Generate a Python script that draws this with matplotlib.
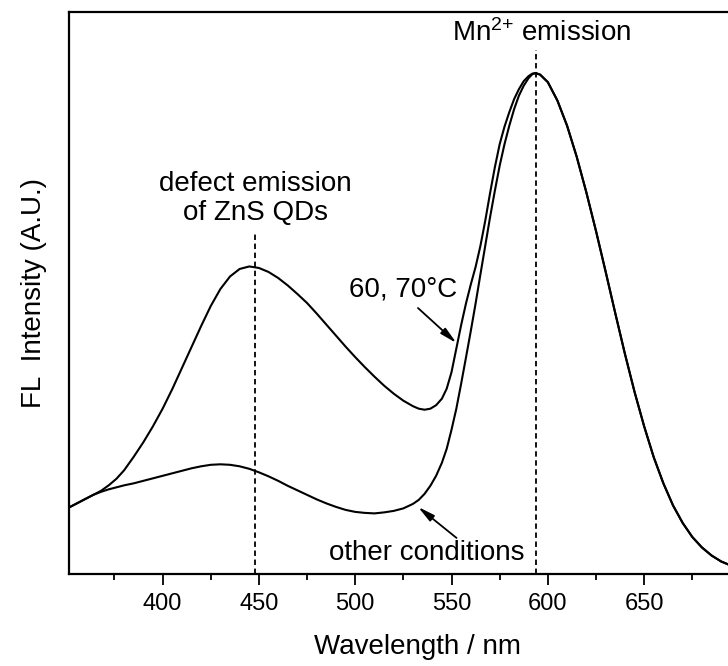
import matplotlib
matplotlib.use('Agg')
import matplotlib.pyplot as plt

plt.rcParams['font.family'] = ['Liberation Sans', 'DejaVu Sans']
plt.rcParams['mathtext.fontset'] = 'custom'
plt.rcParams['mathtext.rm'] = 'Liberation Sans'
plt.rcParams['mathtext.it'] = 'Liberation Sans:italic'
plt.rcParams['mathtext.bf'] = 'Liberation Sans:bold'
plt.rcParams['mathtext.default'] = 'regular'

# 60, 70 C curve (wavelength nm, intensity a.u.)
wl_hot = [352, 356, 360, 364, 368, 372, 376, 380, 385, 390, 395, 400, 405, 410,
          415, 420, 425, 430, 435, 440, 445, 450, 455, 460, 465, 470, 475, 480,
          485, 490, 495, 500, 505, 510, 515, 520, 525, 530, 533, 536, 539, 542,
          545, 547.5, 550, 552.5, 555, 557.5, 560, 562.5, 565, 567.5, 570,
          572.5, 575, 577.5, 580, 582.5, 585, 587.5, 590, 592, 593.7]
fl_hot = [0.134, 0.142, 0.150, 0.158, 0.166, 0.177, 0.190, 0.207, 0.234, 0.263,
          0.295, 0.330, 0.369, 0.411, 0.453, 0.495, 0.535, 0.569, 0.594, 0.609,
          0.614, 0.611, 0.603, 0.591, 0.576, 0.559, 0.541, 0.520, 0.498, 0.476,
          0.454, 0.433, 0.413, 0.394, 0.376, 0.360, 0.346, 0.335, 0.330, 0.328,
          0.330, 0.337, 0.350, 0.370, 0.403, 0.450, 0.497, 0.540, 0.578, 0.613,
          0.655, 0.705, 0.760, 0.812, 0.858, 0.893, 0.922, 0.948, 0.968, 0.984,
          0.994, 0.999, 1.0]

# other conditions curve
wl_other = [352, 356, 360, 364, 368, 372, 376, 380, 385, 390, 395, 400, 405,
            410, 415, 420, 425, 430, 435, 440, 445, 450, 455, 460, 465, 470,
            475, 480, 485, 490, 495, 500, 505, 510, 515, 520, 525, 530, 533,
            536, 539, 542, 545, 547.5, 550, 552.5, 555, 557.5, 560, 562.5, 565,
            567.5, 570, 572.5, 575, 577.5, 580, 582.5, 585, 587.5, 590, 592,
            593.7]
fl_other = [0.134, 0.142, 0.150, 0.158, 0.164, 0.169, 0.173, 0.177, 0.181,
            0.186, 0.191, 0.196, 0.201, 0.206, 0.211, 0.215, 0.218, 0.219,
            0.218, 0.215, 0.210, 0.203, 0.195, 0.186, 0.176, 0.167, 0.158,
            0.149, 0.141, 0.134, 0.128, 0.124, 0.122, 0.121, 0.123, 0.126,
            0.131, 0.140, 0.148, 0.160, 0.176, 0.196, 0.222, 0.250, 0.288,
            0.330, 0.380, 0.432, 0.485, 0.540, 0.598, 0.655, 0.712, 0.765,
            0.815, 0.858, 0.895, 0.928, 0.955, 0.975, 0.990, 0.998, 1.0]

# shared long-wavelength side of the Mn2+ band (both curves overlap here)
wl_tail = [596, 600, 605, 610, 615, 620, 625, 630, 635, 640, 645, 650, 655,
           660, 665, 670, 675, 680, 685, 690, 695, 700, 705, 710, 714]
fl_tail = [0.997, 0.982, 0.945, 0.895, 0.833, 0.762, 0.685, 0.604, 0.521,
           0.440, 0.364, 0.295, 0.233, 0.181, 0.137, 0.102, 0.074, 0.053,
           0.037, 0.025, 0.017, 0.011, 0.007, 0.0045, 0.003]

defect_peak = 448
mn_peak = 593.7

fig = plt.figure(figsize=(7.28, 6.66), dpi=100)
ax = fig.add_axes([69 / 728, 92 / 666, 698 / 728, 562 / 666])

ax.plot(wl_hot + wl_tail, fl_hot + fl_tail, color='black', lw=1.5)
ax.plot(wl_other + wl_tail, fl_other + fl_tail, color='black', lw=1.5)

ax.plot([defect_peak, defect_peak], [0, 0.683], color='black', lw=1.3,
        linestyle=(0, (3, 2)))
ax.plot([mn_peak, mn_peak], [0, 1.046], color='black', lw=1.3,
        linestyle=(0, (3, 2)))

ax.text(defect_peak, 0.75, 'defect emission\nof ZnS QDs', ha='center',
        va='center', fontsize=20, linespacing=1.15)
ax.text(550.3, 1.08, r'Mn$^{2{+}}$ emission', ha='left',
        va='center', fontsize=20)
ax.text(524.8, 0.567, '60, 70\u00b0C', ha='center', va='center', fontsize=20)
ax.text(537.2, 0.042, 'other conditions', ha='center', va='center', fontsize=20)

arrow = dict(arrowstyle='-|>,head_width=0.22,head_length=1.0', color='black',
             lw=1.3, shrinkA=0, shrinkB=0)
ax.annotate('', xy=(552.6, 0.461), xytext=(532.6, 0.531), arrowprops=arrow)
ax.annotate('', xy=(532.6, 0.134), xytext=(552.6, 0.072), arrowprops=arrow)

ax.set_xlim(351.4, 713.8)
ax.set_ylim(0, 1.122)
ax.set_xticks([400, 450, 500, 550, 600, 650])
ax.set_xticks([375, 425, 475, 525, 575, 625, 675], minor=True)
ax.set_yticks([])
ax.tick_params(axis='x', which='major', direction='out', length=8, width=1.3,
               labelsize=17, pad=6)
ax.tick_params(axis='x', which='minor', direction='out', length=4.5, width=1.3)
for s in ax.spines.values():
    s.set_linewidth(1.6)

ax.set_xlabel('Wavelength / nm', fontsize=20, labelpad=13)
ax.set_ylabel('FL  Intensity (A.U.)', fontsize=20, labelpad=16)

fig.savefig('out.png', dpi=100)
